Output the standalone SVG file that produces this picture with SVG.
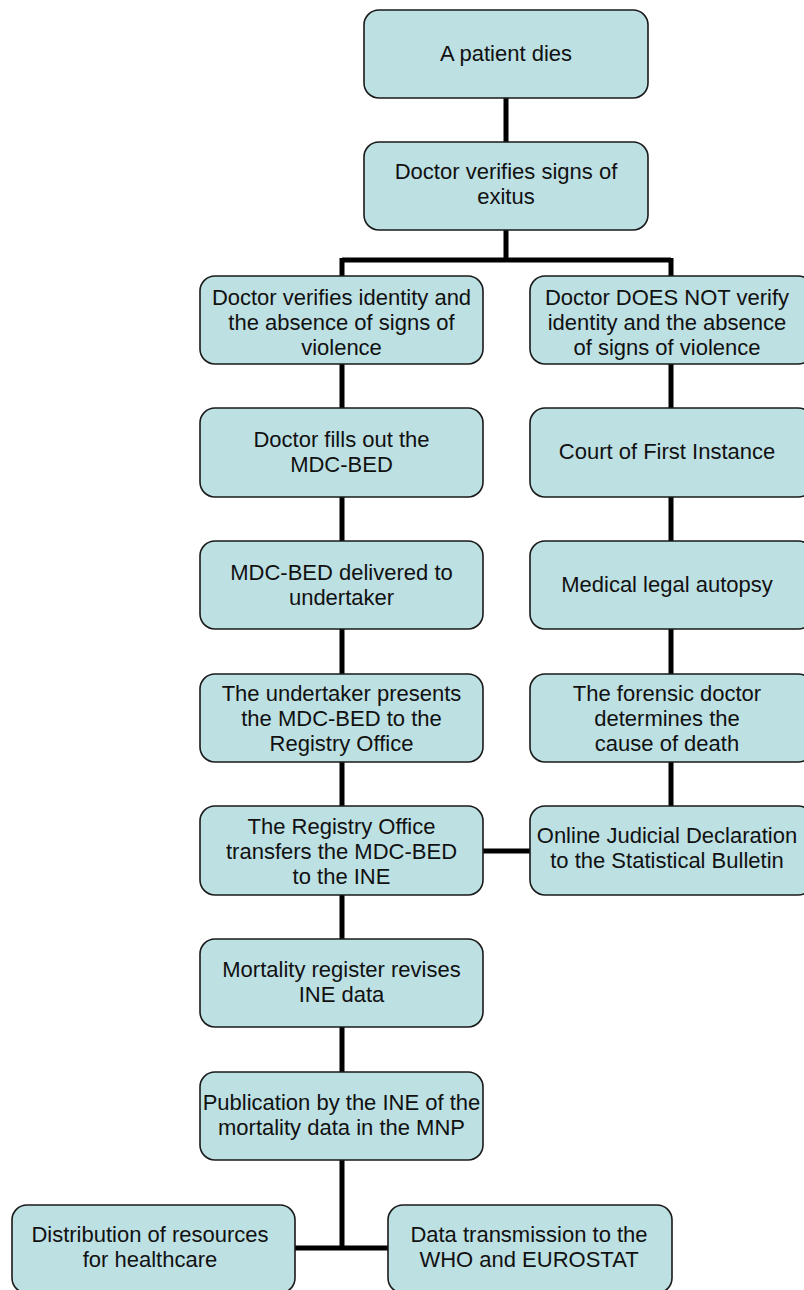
<svg xmlns="http://www.w3.org/2000/svg" width="804" height="1290" viewBox="0 0 804 1290">
<style>
.box{fill:#bde0e3;stroke:#1a1a1a;stroke-width:1.6}
.t{font-family:"Liberation Sans",Arial,Helvetica,sans-serif;font-size:22px;fill:#111;text-anchor:middle}
.c{fill:none;stroke:#000;stroke-width:5}
</style>
<rect width="804" height="1290" fill="#fff"/>
<g id="connectors">
<path class="c" d="M506 98V142M506 230V260M342 260H671M342 258V276M671 258V276"/>
<path class="c" d="M342 364V408M342 497V541M342 629V674M342 762V806M342 895V939M342 1027V1072M342 1160V1250M295 1248H388"/>
<path class="c" d="M671 364V408M671 497V541M671 629V674M671 762V806M483 851H530"/>
</g>
<g id="n1"><rect class="box" x="364" y="10" width="284" height="88" rx="15"/><text class="t" x="506" y="61">A patient dies</text></g>
<g id="n2"><rect class="box" x="364" y="142" width="284" height="88" rx="15"/><text class="t" x="506" y="179">Doctor verifies signs of</text><text class="t" x="506" y="204">exitus</text></g>
<g id="l1"><rect class="box" x="200" y="276" width="283" height="88" rx="15"/><text class="t" x="341.5" y="305">Doctor verifies identity and</text><text class="t" x="341.5" y="330">the absence of signs of</text><text class="t" x="341.5" y="355">violence</text></g>
<g id="l2"><rect class="box" x="200" y="408" width="283" height="89" rx="15"/><text class="t" x="341.5" y="447">Doctor fills out the</text><text class="t" x="341.5" y="472">MDC-BED</text></g>
<g id="l3"><rect class="box" x="200" y="541" width="283" height="88" rx="15"/><text class="t" x="341.5" y="580">MDC-BED delivered to</text><text class="t" x="341.5" y="605">undertaker</text></g>
<g id="l4"><rect class="box" x="200" y="674" width="283" height="88" rx="15"/><text class="t" x="341.5" y="701">The undertaker presents</text><text class="t" x="341.5" y="726">the MDC-BED to the</text><text class="t" x="341.5" y="751">Registry Office</text></g>
<g id="l5"><rect class="box" x="200" y="806" width="283" height="89" rx="15"/><text class="t" x="341.5" y="834">The Registry Office</text><text class="t" x="341.5" y="859">transfers the MDC-BED</text><text class="t" x="341.5" y="884">to the INE</text></g>
<g id="l6"><rect class="box" x="200" y="939" width="283" height="88" rx="15"/><text class="t" x="341.5" y="977">Mortality register revises</text><text class="t" x="341.5" y="1002">INE data</text></g>
<g id="l7"><rect class="box" x="200" y="1072" width="283" height="88" rx="15"/><text class="t" x="341.5" y="1110">Publication by the INE of the</text><text class="t" x="341.5" y="1135">mortality data in the MNP</text></g>
<g id="r1"><rect class="box" x="530" y="276" width="283" height="88" rx="15"/><text class="t" x="667" y="305">Doctor DOES NOT verify</text><text class="t" x="667" y="330">identity and the absence</text><text class="t" x="667" y="355">of signs of violence</text></g>
<g id="r2"><rect class="box" x="530" y="408" width="283" height="89" rx="15"/><text class="t" x="667" y="459">Court of First Instance</text></g>
<g id="r3"><rect class="box" x="530" y="541" width="283" height="88" rx="15"/><text class="t" x="667" y="592">Medical legal autopsy</text></g>
<g id="r4"><rect class="box" x="530" y="674" width="283" height="88" rx="15"/><text class="t" x="667" y="701">The forensic doctor</text><text class="t" x="667" y="726">determines the</text><text class="t" x="667" y="751">cause of death</text></g>
<g id="r5"><rect class="box" x="530" y="806" width="283" height="89" rx="15"/><text class="t" x="667" y="843">Online Judicial Declaration</text><text class="t" x="667" y="868">to the Statistical Bulletin</text></g>
<g id="b1"><rect class="box" x="12" y="1205" width="283" height="88" rx="15"/><text class="t" x="150" y="1242">Distribution of resources</text><text class="t" x="150" y="1267">for healthcare</text></g>
<g id="b2"><rect class="box" x="388" y="1205" width="284" height="88" rx="15"/><text class="t" x="529" y="1242">Data transmission to the</text><text class="t" x="529" y="1267">WHO and EUROSTAT</text></g>
</svg>
